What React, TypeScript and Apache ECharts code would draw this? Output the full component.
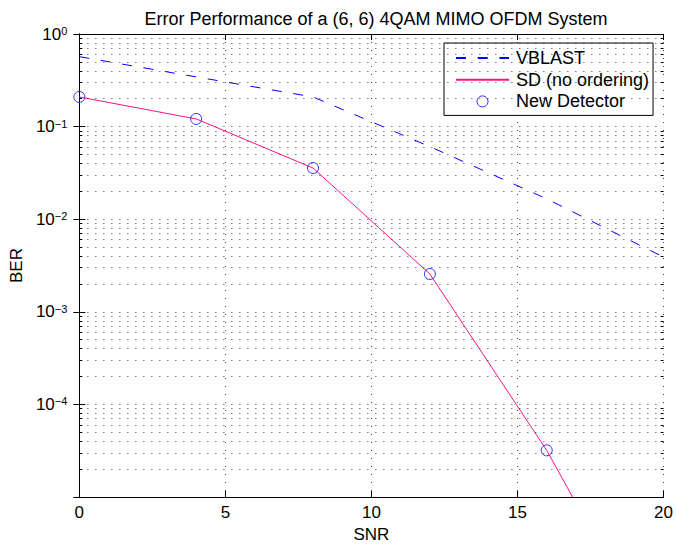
import React, { useEffect, useRef } from 'react';
import * as echarts from 'echarts';

const TITLE = 'Error Performance of a (6, 6) 4QAM MIMO OFDM System';
const SNR = [0, 4, 8, 12, 16, 20];
const VBLAST = [0.569, 0.344, 0.209, 0.0608, 0.0166, 0.0039];
const SD_NO_ORDER = [0.209, 0.121, 0.0357, 0.00256, 3.19e-5, 1.7e-7];
const NEW_SNR = [0, 4, 8, 12, 16];
const NEW_DETECTOR = [0.209, 0.121, 0.0357, 0.00256, 3.19e-5];
const SERIES_NAMES = ['VBLAST', 'SD (no ordering)', 'New Detector'];
const X_MIN = 0;
const X_MAX = 20;
const X_STEP = 5;
const Y_MIN = 1e-5;
const Y_MAX = 1;

const FONT = 'Liberation Sans, Arial, Helvetica, sans-serif';
const BLUE = '#0000ff';
const PINK = '#ff1088';

export default function App() {
  const ref = useRef<HTMLDivElement>(null);
  useEffect(() => {
    const chart = echarts.init(ref.current!, null, { renderer: 'svg' });

    const minorVals: number[] = [];
    for (let e = -5; e < 0; e++) {
      for (let m = 2; m <= 9; m++) minorVals.push(m * Math.pow(10, e));
    }
    const dotStyle = { type: [1, 7] as number[], color: '#000', width: 1, opacity: 0.75 };
    const tickLen = 0.1;

    const supLabel = (v: number) => {
      const ex = Math.round(Math.log10(v));
      if (ex <= -5) return '';
      const s = ex < 0 ? '\u2212' + -ex : String(ex);
      return '{b|10}{s|' + s + '}';
    };

    const option: any = {
      animation: false,
      backgroundColor: '#fff',
      title: {
        text: TITLE,
        left: 371,
        textAlign: 'center',
        top: 5,
        textStyle: { fontFamily: FONT, fontSize: 18, fontWeight: 'normal', color: '#000' },
      },
      legend: {
        data: SERIES_NAMES.map((n) =>
          n === 'New Detector'
            ? { name: n, icon: 'circle', itemStyle: { color: 'rgba(0,0,0,0)', borderColor: BLUE, borderWidth: 1 } }
            : { name: n, itemStyle: { opacity: 0 } }
        ),
        orient: 'vertical',
        left: 444,
        top: 43,
        itemWidth: 53,
        itemHeight: 11,
        itemGap: 3.7,
        padding: [6, 4, 5, 11],
        backgroundColor: '#fff',
        borderColor: '#000',
        borderWidth: 1,
        borderRadius: 0,
        selectedMode: false,
        textStyle: { fontFamily: FONT, fontSize: 18, color: '#000', lineHeight: 18, padding: [0, 0, 0, 2] },
      },
      grid: { left: 78, top: 34, right: 12, bottom: 51, containLabel: false },
      xAxis: [
        {
          type: 'value',
          min: X_MIN,
          max: X_MAX,
          interval: X_STEP,
          name: 'SNR',
          nameLocation: 'middle',
          nameGap: 29,
          nameTextStyle: { fontFamily: FONT, fontSize: 17, color: '#000' },
          axisLine: { show: true, lineStyle: { color: '#000', width: 1 } },
          axisTick: { show: true, inside: true, length: 6, lineStyle: { color: '#000' } },
          axisLabel: { fontFamily: FONT, fontSize: 17, color: '#000', margin: 7 },
          splitLine: { show: true, lineStyle: dotStyle },
        },
        {
          type: 'value',
          position: 'top',
          min: X_MIN,
          max: X_MAX,
          interval: X_STEP,
          axisLine: { show: true, lineStyle: { color: '#000', width: 1 } },
          axisTick: { show: true, inside: true, length: 6, lineStyle: { color: '#000' } },
          axisLabel: { show: false },
          splitLine: { show: false },
        },
      ],
      yAxis: [
        {
          type: 'log',
          logBase: 10,
          min: Y_MIN,
          max: Y_MAX,
          name: 'BER',
          nameLocation: 'middle',
          nameGap: 52,
          nameTextStyle: { fontFamily: FONT, fontSize: 17, color: '#000' },
          axisLine: { show: true, lineStyle: { color: '#000', width: 1 } },
          axisTick: { show: true, inside: true, length: 6, lineStyle: { color: '#000' } },
          axisLabel: {
            margin: 12,
            formatter: supLabel,
            rich: {
              b: { fontFamily: FONT, fontSize: 17, color: '#000', lineHeight: 17, verticalAlign: 'bottom' },
              s: { fontFamily: FONT, fontSize: 11, color: '#000', lineHeight: 11, verticalAlign: 'top' },
            },
          },
          splitLine: { show: true, lineStyle: dotStyle },
        },
        {
          type: 'log',
          logBase: 10,
          min: Y_MIN,
          max: Y_MAX,
          position: 'right',
          axisLine: { show: true, lineStyle: { color: '#000', width: 1 } },
          axisTick: { show: true, inside: true, length: 6, lineStyle: { color: '#000' } },
          axisLabel: { show: false },
          splitLine: { show: false },
        },
      ],
      series: [
        {
          name: 'minor-grid',
          type: 'line',
          z: 1,
          data: [],
          silent: true,
          markLine: {
            silent: true,
            symbol: ['none', 'none'],
            label: { show: false },
            lineStyle: dotStyle,
            data: minorVals.map((v) => [{ coord: [X_MIN, v] }, { coord: [X_MAX, v] }]),
          },
        },
        {
          name: 'minor-ticks',
          type: 'line',
          z: 1,
          data: [],
          silent: true,
          markLine: {
            silent: true,
            symbol: ['none', 'none'],
            label: { show: false },
            lineStyle: { type: 'solid', color: '#000', width: 1 },
            data: minorVals
              .map((v) => [{ coord: [X_MIN, v] }, { coord: [X_MIN + tickLen, v] }])
              .concat(minorVals.map((v) => [{ coord: [X_MAX, v] }, { coord: [X_MAX - tickLen, v] }])),
          },
        },
        {
          name: SERIES_NAMES[0],
          type: 'line',
          z: 3,
          data: SNR.map((x, i) => [x, VBLAST[i]]),
          symbol: 'none',
          lineStyle: { color: BLUE, width: 1, type: [10, 11.7] },
          itemStyle: { color: BLUE },
        },
        {
          name: SERIES_NAMES[1],
          type: 'line',
          z: 3,
          data: SNR.map((x, i) => [x, SD_NO_ORDER[i]]),
          symbol: 'none',
          lineStyle: { color: PINK, width: 1 },
          itemStyle: { color: PINK },
        },
        {
          name: SERIES_NAMES[2],
          type: 'scatter',
          z: 4,
          data: NEW_SNR.map((x, i) => [x, NEW_DETECTOR[i]]),
          symbol: 'circle',
          symbolSize: 11,
          itemStyle: { color: 'rgba(0,0,0,0)', borderColor: BLUE, borderWidth: 1 },
        },
      ],
    };
    chart.setOption(option);
    return () => chart.dispose();
  }, []);
  return <div ref={ref} style={{ position: 'fixed', left: 0, top: 0, width: 676, height: 548 }} />;
}
